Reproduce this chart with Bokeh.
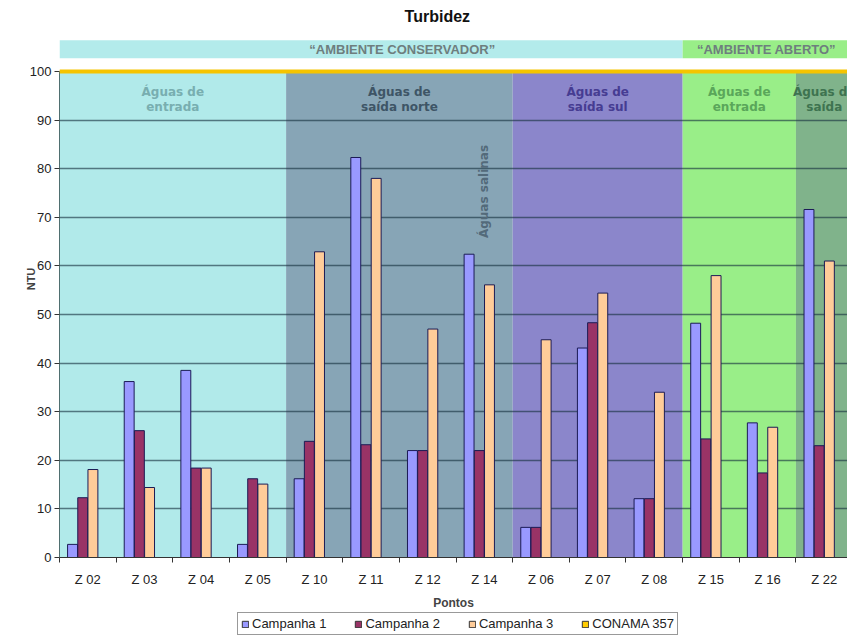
from bokeh.plotting import figure
from bokeh.layouts import column
from bokeh.models import Range1d, FixedTicker, Span, Legend, LegendItem, ColumnDataSource
from bokeh.core.properties import value
from bokeh.embed import file_html
from bokeh.resources import INLINE

# ---------------- data ----------------
points = ["Z 02", "Z 03", "Z 04", "Z 05", "Z 10", "Z 11", "Z 12", "Z 14",
          "Z 06", "Z 07", "Z 08", "Z 15", "Z 16", "Z 22"]
campanha1 = [2.7, 36.2, 38.5, 2.7, 16.2, 82.3, 22.0, 62.4, 6.2, 43.1, 12.1, 48.2, 27.7, 71.6]
campanha2 = [12.3, 26.1, 18.4, 16.2, 23.9, 23.2, 22.0, 22.0, 6.2, 48.3, 12.1, 24.4, 17.4, 23.0]
campanha3 = [18.1, 14.4, 18.4, 15.1, 62.9, 78.0, 47.0, 56.1, 44.8, 54.4, 34.0, 58.0, 26.8, 61.0]
conama_357 = 100
series_names = ["Campanha 1", "Campanha 2", "Campanha 3", "CONAMA 357"]

zone_labels = ["Águas de\nentrada", "Águas de\nsaída norte", "Águas de\nsaída sul",
               "Águas de\nentrada", "Águas de\nsaída"]
zone_first = [0, 4, 8, 11, 13]   # index of first point in zone
zone_count = [4, 4, 3, 2, 1]     # number of points in zone

env_labels = ["“AMBIENTE CONSERVADOR”", "“AMBIENTE ABERTO”"]
env_first = [0, 11]
env_count = [11, 3]

saline_label = "Águas salinas"
saline_point = "Z 14"

title_text = "Turbidez"
x_title = "Pontos"
y_title = "NTU"
y_ticks = list(range(0, 101, 10))

# ---------------- styles ----------------
C1, C2, C3, C4 = "#9999FF", "#993366", "#FFCC99", "#F5C400"
series_colors = [C1, C2, C3, "#FFCC00"]
zone_fill = ["#B1EAEA", "#87A5B6", "#8B86CB", "#99EE88", "#80B38B"]
zone_text = ["#78AEB0", "#3E5566", "#463C92", "#5AA65A", "#3E7350"]
env_fill = ["#B3EBEB", "#99EE88"]
env_text_x_shift = [0.55, -0.02]

W, H1, H2 = 847, 612, 23
Y_END = 114.6
X_END = 13.91
BW = 0.175

p = figure(width=W, height=H1, output_backend="svg", toolbar_location=None,
           x_range=Range1d(0, X_END), y_range=Range1d(0, Y_END),
           min_border_left=59, min_border_right=0, min_border_top=0,
           min_border_bottom=55, outline_line_color=None)
p.background_fill_color = "white"
p.border_fill_color = "white"

n = len(points)
centers = [i + 0.5 for i in range(n)]

# background zones
zsrc = ColumnDataSource(dict(
    left=zone_first,
    right=[a + b for a, b in zip(zone_first, zone_count)],
    fill=zone_fill, tcol=zone_text, label=zone_labels,
    xc=[a + b / 2 for a, b in zip(zone_first, zone_count)],
))
p.quad(left="left", right="right", bottom=0, top=conama_357, fill_color="fill",
       line_color=None, source=zsrc, level="image")

# environment banners
esrc = ColumnDataSource(dict(
    left=env_first,
    right=[a + b for a, b in zip(env_first, env_count)],
    fill=env_fill, label=env_labels,
    xc=[a + b / 2 + s for a, b, s in zip(env_first, env_count, env_text_x_shift)],
))
p.quad(left="left", right="right", bottom=102.7, top=106.4, fill_color="fill",
       line_color=None, source=esrc, level="image")
p.text(x="xc", y=104.55, text="label", source=esrc, text_align="center",
       text_baseline="middle", text_font=value("Liberation Sans"), text_font_style="bold",
       text_font_size="13px", text_color="#6E7E7E")

# title
p.text(x=[6.67], y=[111.3], text=[title_text], text_align="center", text_baseline="middle",
       text_font=value("Liberation Sans"), text_font_style="bold", text_font_size="16px",
       text_color="#111111")

# grid
p.xgrid.visible = False
p.ygrid.ticker = FixedTicker(ticks=y_ticks)
p.ygrid.grid_line_color = "#16303F"
p.ygrid.grid_line_alpha = 0.62
p.ygrid.grid_line_width = 1.7

# bars
offs = [-0.27, -0.09, 0.09]
for vals, off, col in zip([campanha1, campanha2, campanha3], offs, [C1, C2, C3]):
    p.vbar(x=[c + off for c in centers], top=vals, width=BW, fill_color=col,
           line_color="#1B1B55", line_width=1)

# CONAMA limit
p.add_layout(Span(location=conama_357, dimension="width", line_color=C4, line_width=4))

# zone labels
p.text(x="xc", y=94.2, text="label", source=zsrc, text_align="center",
       text_baseline="middle", text_color="tcol", text_font=value("DejaVu Sans"),
       text_font_style="bold", text_font_size="12px", text_line_height=1.1)

# saline label
p.text(x=[centers[points.index(saline_point)]], y=[75.3], text=[saline_label], angle=1.5708,
       text_align="center", text_baseline="middle", text_color="#536A7A",
       text_font=value("DejaVu Sans"), text_font_style="bold", text_font_size="12px")

# axes
xa = p.xaxis[0]
xa.ticker = FixedTicker(ticks=centers, minor_ticks=list(range(n + 1)))
xa.major_label_overrides = {c: lab for c, lab in zip(centers, points)}
xa.major_tick_line_color = None
xa.major_tick_out = 0
xa.minor_tick_out = 5
xa.minor_tick_in = 0
xa.minor_tick_line_color = "#333333"
xa.axis_line_color = "#333333"
xa.major_label_standoff = 9
xa.major_label_text_font = "Liberation Sans"
xa.major_label_text_font_size = "13px"
xa.major_label_text_color = "#222222"
xa.axis_label = x_title
xa.axis_label_text_font = "Liberation Sans"
xa.axis_label_text_font_style = "bold"
xa.axis_label_text_font_size = "12px"
xa.axis_label_standoff = 6

ya = p.yaxis[0]
ya.ticker = FixedTicker(ticks=y_ticks)
ya.bounds = (0, 100)
ya.major_tick_out = 5
ya.major_tick_in = 0
ya.minor_tick_line_color = None
ya.axis_line_color = "#4F6F70"
ya.major_tick_line_color = "#333333"
ya.major_label_standoff = 3
ya.major_label_text_font = "Liberation Sans"
ya.major_label_text_font_size = "13px"
ya.major_label_text_color = "#222222"
ya.axis_label = y_title
ya.axis_label_text_font = "Liberation Sans"
ya.axis_label_text_font_style = "bold"
ya.axis_label_text_font_size = "11px"
ya.axis_label_standoff = -10

# legend strip (separate small figure, no axes); key glyphs sit hidden under the legend box
lg = figure(width=W, height=H2, output_backend="svg", toolbar_location=None,
            x_range=Range1d(0, 1), y_range=Range1d(0, 1), min_border=0,
            x_axis_location=None, y_axis_location=None, outline_line_color=None)
try:
    lg.frame_align = False
except Exception:
    pass
lg.grid.visible = False
items = []
for nm, col in zip(series_names, series_colors):
    r = lg.vbar(x=[0.5], top=[0.5], bottom=[0.5], width=0.0, fill_color=col,
                line_color="#333333", line_width=1)
    items.append(LegendItem(label=nm, renderers=[r]))
legend = Legend(items=items, orientation="horizontal", location=(237, 0))
legend.glyph_width = 8
legend.glyph_height = 8
legend.label_standoff = 3
legend.spacing = 28
legend.padding = 3
legend.margin = 0
legend.border_line_color = "#333333"
legend.border_line_width = 1
legend.background_fill_color = "white"
legend.background_fill_alpha = 1.0
legend.label_text_font = "Liberation Sans"
legend.label_text_font_size = "13px"
legend.label_text_color = "#222222"
legend.label_height = 15
legend.label_text_baseline = "middle"
lg.add_layout(legend)

layout = column(p, lg, spacing=0)
open("out.html", "w").write(file_html(layout, INLINE))
